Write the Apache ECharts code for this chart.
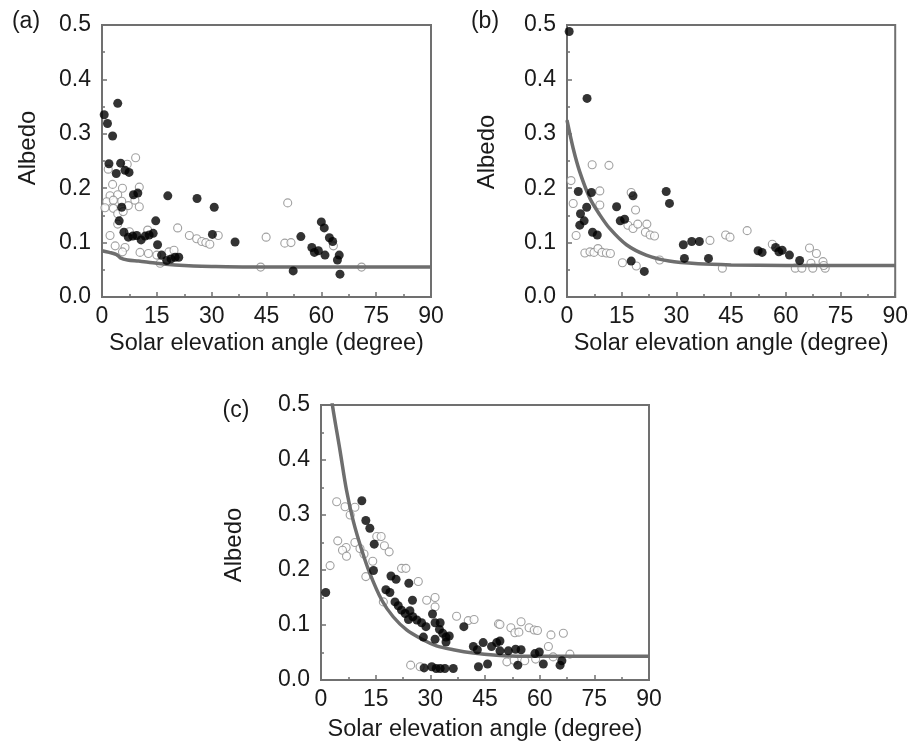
<!DOCTYPE html>
<html>
<head>
<meta charset="utf-8">
<script src="https://cdn.jsdelivr.net/npm/echarts@6/dist/echarts.min.js"></script>
<style>
  html, body { margin: 0; padding: 0; background: #fff; }
  #main { width: 911px; height: 749px; }
</style>
</head>
<body>
<div id="main"></div>
<script>
// panel (a): [angle, albedo]
var filledA = [[0.6,0.335],[4.3,0.356],[1.5,0.319],[2.9,0.296],[1.9,0.245],[5.1,0.246],[3.9,0.227],[6.3,0.233],
    [7.4,0.229],[8.6,0.188],[9.8,0.191],[5.4,0.165],[4.7,0.140],[18,0.186],[26,0.181],[30.7,0.165],[14.7,0.140],
    [6.0,0.119],[7.2,0.110],[8.4,0.112],[9.5,0.113],[10.7,0.105],[11.8,0.112],[12.9,0.114],[14.0,0.117],[15.2,0.096],
    [16.3,0.077],[17.7,0.067],[18.9,0.070],[20,0.073],[21,0.073],[30.2,0.115],[36.4,0.101],[54.4,0.111],[52.3,0.048],
    [60,0.138],[60.8,0.127],[62.2,0.109],[63.1,0.102],[57.4,0.091],[58.1,0.082],[59.2,0.085],[61,0.077],[64.9,0.077],
    [64.4,0.068],[65.1,0.042]];
var openA = [[9.2,0.256],[1.7,0.235],[6.9,0.244],[2.9,0.207],[5.6,0.200],[10.2,0.202],[2.2,0.186],[4.3,0.188],
    [1.3,0.175],[3.1,0.178],[5.4,0.176],[7.2,0.168],[9.0,0.178],[10.2,0.166],[0.8,0.164],[3.1,0.163],[4.3,0.153],
    [5.8,0.157],[4.3,0.134],[20.7,0.127],[12.5,0.123],[2.2,0.113],[7.5,0.120],[23.9,0.113],[25.9,0.107],[27.3,0.102],
    [28.4,0.100],[29.5,0.097],[31.8,0.113],[44.9,0.110],[3.6,0.094],[6.3,0.091],[10.4,0.082],[12.7,0.080],[15,0.077],
    [18.3,0.083],[19.7,0.086],[15.9,0.062],[43.4,0.055],[5.6,0.083],[50.8,0.173],[50,0.099],[51.7,0.100],[63.3,0.094],
    [71,0.055]];
var curveA = [[0,0.085],[2,0.082],[4,0.078],[5,0.072],[7,0.068],[10,0.066],[15,0.062],[20,0.059],[25,0.057],
    [30,0.056],[40,0.055],[90,0.055]];

// panel (b)
var filledB = [[0.6,0.488],[5.5,0.365],[3.1,0.194],[6.7,0.192],[5.4,0.165],[3.7,0.153],[4.7,0.140],[3.5,0.132],
    [7.0,0.119],[8.3,0.114],[18.1,0.186],[13.6,0.166],[14.6,0.140],[15.8,0.143],[17.6,0.066],[21.2,0.047],[27.2,0.194],
    [28.1,0.172],[31.9,0.096],[34.2,0.102],[36.3,0.102],[32.2,0.071],[38.8,0.071],[52.4,0.085],[53.5,0.082],[57.2,0.091],
    [58.1,0.083],[59,0.086],[61,0.077],[63.8,0.067]];
var openB = [[1.1,0.214],[1.7,0.172],[6.9,0.243],[11.5,0.242],[9.0,0.195],[9.0,0.169],[2.5,0.113],[4.9,0.081],
    [6.3,0.083],[7.4,0.082],[8.5,0.089],[9.6,0.082],[10.8,0.081],[11.9,0.080],[17.6,0.192],[18.8,0.160],[16.7,0.132],
    [18.1,0.126],[19.4,0.134],[21.9,0.134],[21.5,0.119],[22.8,0.114],[24,0.112],[15.2,0.063],[19,0.057],[25.4,0.068],
    [39.2,0.104],[43.5,0.114],[42.6,0.053],[44.7,0.110],[49.4,0.122],[56.3,0.097],[66.5,0.090],[68.4,0.080],[66.9,0.062],
    [70.2,0.065],[62.6,0.053],[64.4,0.053],[67.4,0.053],[70.8,0.053],[70.4,0.058]];
var curveB = [[0,0.325],[1.7,0.273],[3.5,0.23],[6.3,0.181],[9,0.151],[11.7,0.126],[16.3,0.096],[21.7,0.077],
    [28,0.066],[36,0.061],[45,0.059],[60,0.058],[90,0.058]];

// panel (c)
var filledC = [[1.3,0.159],[11.2,0.326],[12.3,0.290],[13.4,0.276],[14.6,0.247],[14.4,0.199],[19.2,0.189],[20.6,0.183],
    [24.1,0.176],[17.8,0.164],[18.9,0.159],[25.1,0.145],[20.3,0.142],[21.2,0.135],[22.1,0.127],[23.1,0.121],[24.4,0.126],
    [25.2,0.115],[24,0.110],[26.3,0.109],[27.6,0.104],[28.8,0.097],[30.6,0.120],[31.3,0.104],[32.7,0.104],[32.5,0.092],
    [33.4,0.085],[34.3,0.078],[35.2,0.080],[31.3,0.074],[28.1,0.078],[34.3,0.069],[39.2,0.097],[41.8,0.061],[42.9,0.055],
    [44.5,0.068],[46.8,0.061],[48.2,0.068],[28.3,0.022],[30.4,0.024],[31.6,0.021],[32.7,0.021],[34.0,0.021],[36.3,0.021],
    [43.2,0.024],[45.7,0.029],[49.1,0.071],[49.1,0.053],[51.4,0.053],[53.4,0.056],[54.9,0.055],[54,0.027],[58.7,0.048],
    [59.9,0.051],[61,0.029],[65.6,0.027],[66.1,0.035]];
var openC = [[2.5,0.208],[4.3,0.324],[6.6,0.315],[8.0,0.300],[9.3,0.314],[4.6,0.253],[6.9,0.241],[5.9,0.236],
    [7.0,0.225],[9.3,0.250],[10.7,0.239],[11.8,0.229],[15.3,0.261],[16.5,0.261],[17.4,0.244],[18.7,0.233],[14.2,0.216],
    [12.3,0.188],[22.1,0.203],[23.3,0.203],[26.7,0.179],[29,0.145],[31.3,0.150],[31.3,0.133],[37.2,0.116],[40.4,0.108],
    [42,0.110],[48.7,0.102],[17.1,0.142],[24.6,0.027],[27.2,0.024],[49.1,0.101],[52.1,0.095],[54.9,0.106],[53.2,0.086],
    [54.3,0.087],[57.1,0.095],[58.5,0.091],[59.4,0.090],[63.1,0.082],[66.5,0.085],[62.4,0.061],[51,0.033],[53,0.036],
    [55.9,0.035],[58.9,0.038],[63.7,0.042],[68.3,0.047]];
var curveC = [[2.6,0.53],[3.2,0.497],[5.2,0.418],[7,0.345],[8.9,0.288],[11.2,0.236],[13.4,0.194],[16.7,0.145],
    [19.8,0.115],[23.5,0.091],[27.2,0.076],[31.7,0.062],[36.3,0.055],[41.8,0.049],[48.2,0.045],[55,0.043],[90,0.043]];

var panelNames = ['(a)', '(b)', '(c)'];
var xTitle = 'Solar elevation angle (degree)';
var yTitle = 'Albedo';

var FONT = '"Liberation Sans", Arial, sans-serif';
var AXIS_COLOR = '#707070';
var TEXT_COLOR = '#1a1a1a';

// pixel boxes of the three plots
var boxes = [
    { left: 102, top: 25, width: 329, height: 272 },
    { left: 567, top: 25, width: 330, height: 272 },
    { left: 321, top: 405, width: 328, height: 275 }
];
var titleGaps = [35, 35, 38];

function makeXAxis(i) {
    return {
        gridIndex: i, type: 'value', min: 0, max: 90, interval: 15,
        name: xTitle, nameLocation: 'middle', nameGap: titleGaps[i],
        nameTextStyle: { fontFamily: FONT, fontSize: 23.5, color: TEXT_COLOR },
        axisLine: { show: true, lineStyle: { color: AXIS_COLOR, width: 2 } },
        axisTick: { show: true, inside: true, length: 5, lineStyle: { color: AXIS_COLOR, width: 1.5 } },
        minorTick: { show: true, splitNumber: 2, length: 3, lineStyle: { color: AXIS_COLOR, width: 1.5 } },
        axisLabel: { fontFamily: FONT, fontSize: 23, color: TEXT_COLOR, margin: 8 },
        splitLine: { show: false }
    };
}

function makeYAxis(i) {
    return {
        gridIndex: i, type: 'value', min: 0, max: 0.5, interval: 0.1,
        axisLine: { show: true, lineStyle: { color: AXIS_COLOR, width: 2 } },
        axisTick: { show: true, inside: true, length: 5, lineStyle: { color: AXIS_COLOR, width: 1.5 } },
        minorTick: { show: true, splitNumber: 2, length: 3, lineStyle: { color: AXIS_COLOR, width: 1.5 } },
        axisLabel: {
            fontFamily: FONT, fontSize: 23, color: TEXT_COLOR, margin: 11,
            formatter: function(v) { return v.toFixed(1); }
        },
        splitLine: { show: false }
    };
}

function makeSeries(i, open, filled, curve) {
    return [{
        type: 'scatter', xAxisIndex: i, yAxisIndex: i, data: open,
        symbol: 'circle', symbolSize: 8,
        itemStyle: { color: '#fff', borderColor: '#8a8a8a', borderWidth: 1.1 },
        z: 2
    }, {
        type: 'line', xAxisIndex: i, yAxisIndex: i, data: curve,
        smooth: 0.3, showSymbol: false, clip: true,
        lineStyle: { color: '#6e6e6e', width: 3.5 },
        z: 3
    }, {
        type: 'scatter', xAxisIndex: i, yAxisIndex: i, data: filled,
        symbol: 'circle', symbolSize: 9,
        itemStyle: { color: '#000' },
        z: 4
    }];
}

var labelPos = [[26, 22], [485, 22], [236, 411]];
var albedoPos = [[28, 148], [487, 152], [234, 545]];

var graphics = [];
for (var k = 0; k < 3; k++) {
    graphics.push({
        type: 'text', x: labelPos[k][0], y: labelPos[k][1],
        style: { text: panelNames[k], font: '23px ' + FONT, fill: TEXT_COLOR, align: 'center', verticalAlign: 'middle' }
    });
    graphics.push({
        type: 'text', x: albedoPos[k][0], y: albedoPos[k][1], rotation: Math.PI / 2,
        style: { text: yTitle, font: '24px ' + FONT, fill: TEXT_COLOR, align: 'center', verticalAlign: 'middle' }
    });
}

var chart = echarts.init(document.getElementById('main'));
var option = {
    backgroundColor: '#fff',
    animation: false,
    grid: boxes.map(function(b) {
        return {
            left: b.left, top: b.top, width: b.width, height: b.height,
            show: true, borderColor: AXIS_COLOR, borderWidth: 2, backgroundColor: 'transparent'
        };
    }),
    xAxis: [makeXAxis(0), makeXAxis(1), makeXAxis(2)],
    yAxis: [makeYAxis(0), makeYAxis(1), makeYAxis(2)],
    series: [].concat(
        makeSeries(0, openA, filledA, curveA),
        makeSeries(1, openB, filledB, curveB),
        makeSeries(2, openC, filledC, curveC)
    ),
    graphic: graphics
};
chart.setOption(option);
</script>
</body>
</html>
